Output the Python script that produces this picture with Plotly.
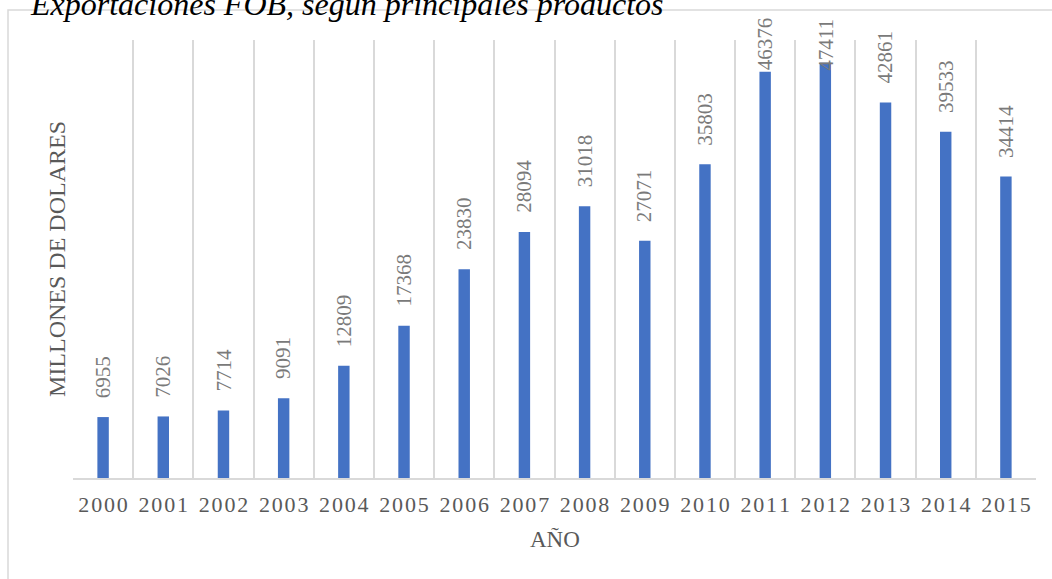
import plotly.graph_objects as go

years = ["2000", "2001", "2002", "2003", "2004", "2005", "2006", "2007",
         "2008", "2009", "2010", "2011", "2012", "2013", "2014", "2015"]
exports = [6955, 7026, 7714, 9091, 12809, 17368, 23830, 28094,
           31018, 27071, 35803, 46376, 47411, 42861, 39533, 34414]

title_text = "Exportaciones FOB, según principales productos"
y_title = "MILLONES DE DOLARES"
x_title = "AÑO"

W, H = 1052, 579
L, R, T, B = 73, 16, 40, 101
YMAX = 50000
plot_h = H - T - B
plot_w = W - L - R

FONT = "Liberation Serif, Times New Roman, serif"
GRAY = "#595959"
LABEL_GRAY = "#7a7a7a"
GRID = "#d9d9d9"
HAIR = "\u200a"

tick_text = [HAIR.join(list(y)) for y in years]

fig = go.Figure()
fig.add_trace(go.Bar(
    x=years, y=exports,
    marker=dict(color="#4472C4", line=dict(width=0)),
    width=0.19,
    hoverinfo="x+y",
))

# data labels (rotated), offset above bars, kept inside chart area
annotations = []
char_w = 10.5
for i, v in enumerate(exports):
    top_px = T + plot_h * (1 - v / YMAX)
    lab_len = len(str(v)) * char_w
    bottom = top_px - 17
    if bottom - lab_len < 20:
        bottom = 20 + lab_len
    annotations.append(dict(
        x=i, y=v, xref="x", yref="y", text=str(v), showarrow=False,
        textangle=-90, xanchor="center", yanchor="bottom",
        yshift=top_px - bottom,
        font=dict(family=FONT, size=21, color=LABEL_GRAY),
    ))

annotations += [
    dict(text="<i>" + title_text + "</i>", x=(28 - L) / plot_w, y=(H - B - 24) / plot_h,
         xref="paper", yref="paper", xanchor="left", yanchor="bottom",
         showarrow=False, font=dict(family=FONT, size=32, color="#000000")),
    dict(text=y_title, x=(57 - L) / plot_w, y=0.5, xref="paper", yref="paper",
         textangle=-90, showarrow=False, xanchor="center", yanchor="middle",
         font=dict(family=FONT, size=24, color=GRAY)),
    dict(text=x_title, x=0.5, y=-(539 - (H - B)) / plot_h, xref="paper", yref="paper",
         showarrow=False, xanchor="center", yanchor="middle",
         font=dict(family=FONT, size=23, color=GRAY)),
]

fig.update_layout(
    width=W, height=H,
    margin=dict(l=L, r=R, t=T, b=B, pad=0),
    paper_bgcolor="white", plot_bgcolor="white",
    showlegend=False,
    annotations=annotations,
    shapes=[dict(type="rect", xref="paper", yref="paper",
                 x0=(8 - L) / plot_w, x1=1.2,
                 y0=-0.5, y1=(H - B - 10) / plot_h,
                 line=dict(color=GRID, width=1.5), layer="below")],
    xaxis=dict(
        type="category", range=[-0.5, 15.5],
        tickson="boundaries", showgrid=True, gridcolor=GRID, gridwidth=1.5,
        showline=True, linecolor=GRID, linewidth=1.5,
        ticks="", ticklen=0, ticklabelstandoff=6,
        tickmode="array", tickvals=years, ticktext=tick_text,
        tickfont=dict(family=FONT, size=22, color=GRAY),
    ),
    yaxis=dict(range=[0, YMAX], showgrid=False, zeroline=False,
               showticklabels=False, showline=False, ticks=""),
)

fig.write_html("out.html", config={"displayModeBar": False},
               post_script="document.body.style.margin='0';")
